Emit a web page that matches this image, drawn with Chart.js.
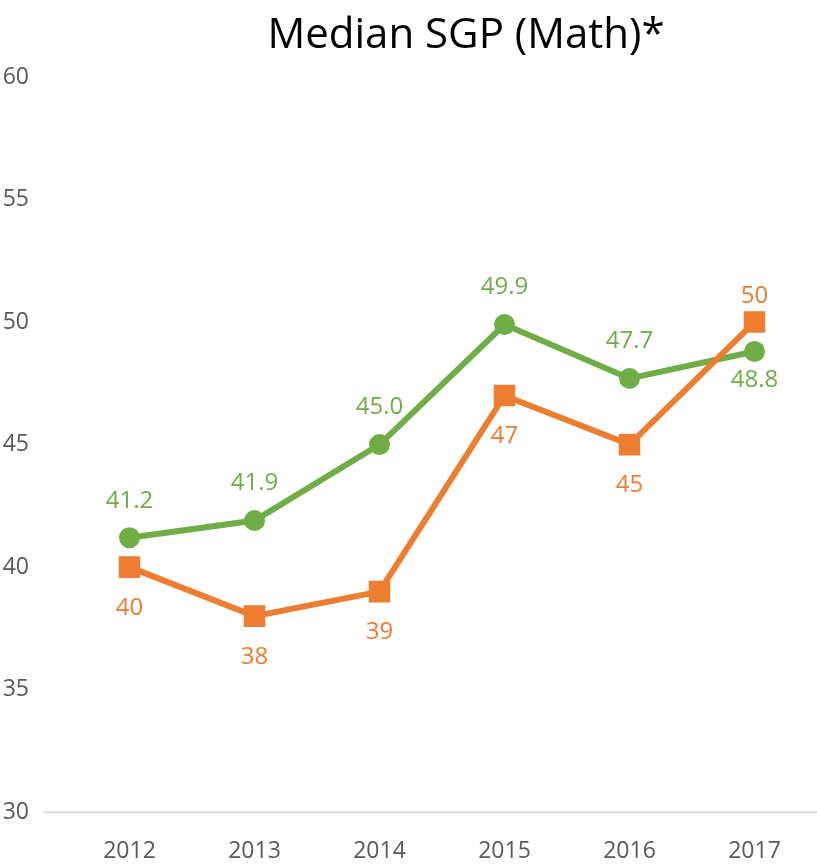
<!DOCTYPE html>
<html>
<head>
<meta charset="utf-8">
<script src="https://cdn.jsdelivr.net/npm/chart.js@4"></script>
<style>
  html, body { margin: 0; padding: 0; background: #fff; }
  #wrap { width: 817px; height: 864px; }
</style>
</head>
<body>
<div id="wrap"><canvas id="sgpChart"></canvas></div>
<script>
const years = ['2012', '2013', '2014', '2015', '2016', '2017'];
const greenValues = [41.2, 41.9, 45.0, 49.9, 47.7, 48.8];
const orangeValues = [40, 38, 39, 47, 45, 50];
const yTicks = [30, 35, 40, 45, 50, 55, 60];
const chartTitle = 'Median SGP (Math)*';

const GREEN = '#70AD47';
const ORANGE = '#ED7D31';
const FONT = "'Open Sans', sans-serif";

// labels above/below points, plus title and long axis line
const decor = {
  id: 'decor',
  afterDatasetsDraw(chart) {
    const ctx = chart.ctx;
    const metas = [chart.getDatasetMeta(0), chart.getDatasetMeta(1)];
    ctx.save();
    ctx.font = '24px ' + FONT;
    ctx.textAlign = 'center';
    ctx.textBaseline = 'middle';
    metas.forEach((meta, di) => {
      const ds = chart.data.datasets[di];
      const other = chart.data.datasets[1 - di].data;
      meta.data.forEach((pt, i) => {
        const v = ds.data[i];
        const above = v > other[i];
        const txt = ds.decimals ? v.toFixed(1) : String(v);
        ctx.fillStyle = ds.borderColor;
        const dy = above ? (di === 0 ? -26 : -37) : (di === 1 ? 29 : 41);
        ctx.fillText(txt, pt.x, pt.y + dy);
      });
    });
    ctx.restore();
  },
  afterDraw(chart) {
    const ctx = chart.ctx;
    const y = chart.scales.y.getPixelForValue(30);
    ctx.save();
    ctx.strokeStyle = '#D9D9D9';
    ctx.lineWidth = 2;
    ctx.beginPath();
    ctx.moveTo(43, y);
    ctx.lineTo(chart.width, y);
    ctx.stroke();
    ctx.font = '42px ' + FONT;
    ctx.fillStyle = '#000';
    ctx.textAlign = 'center';
    ctx.textBaseline = 'middle';
    ctx.fillText(chartTitle, 466, 36);
    ctx.restore();
  }
};

const ctx = document.getElementById('sgpChart').getContext('2d');
new Chart(ctx, {
  type: 'line',
  data: {
    labels: years,
    datasets: [{
      label: 'Orange',
      data: orangeValues,
      borderColor: ORANGE,
      backgroundColor: ORANGE,
      borderWidth: 6,
      pointStyle: 'rect',
      pointRadius: 11,
      pointHoverRadius: 11,
      tension: 0,
      fill: false,
      decimals: false
    }, {
      label: 'Green',
      data: greenValues,
      borderColor: GREEN,
      backgroundColor: GREEN,
      borderWidth: 6,
      pointStyle: 'circle',
      pointRadius: 7.5,
      pointHoverRadius: 7.5,
      tension: 0,
      fill: false,
      decimals: true
    }]
  },
  options: {
    responsive: true,
    maintainAspectRatio: false,
    animation: false,
    layout: { autoPadding: false, padding: { top: 77, left: 0, right: 0, bottom: 0 } },
    plugins: {
      legend: { display: false },
      tooltip: { enabled: false },
      title: { display: false }
    },
    scales: {
      x: {
        offset: true,
        afterFit: (s) => { s.height = 51; s.paddingRight = 0; s.paddingLeft = 0; },
        grid: { display: false, drawTicks: false },
        border: { display: false },
        ticks: { color: '#595959', font: { size: 23, family: FONT }, padding: 25 }
      },
      y: {
        min: 30,
        max: 60,
        afterFit: (s) => { s.width = 67; },
        afterBuildTicks: (axis) => { axis.ticks = yTicks.map(v => ({ value: v })); },
        grid: { display: false, drawTicks: false },
        border: { display: false },
        ticks: { color: '#595959', font: { size: 23, family: FONT }, padding: 38 }
      }
    }
  },
  plugins: [decor]
});
</script>
</body>
</html>
